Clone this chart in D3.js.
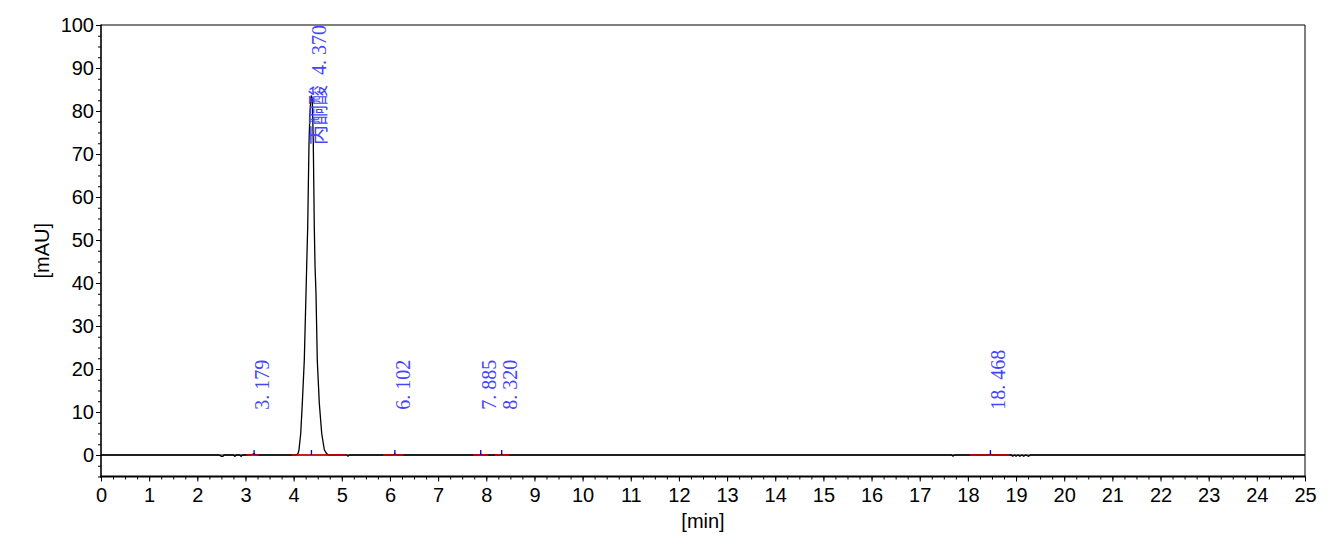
<!DOCTYPE html>
<html>
<head>
<meta charset="utf-8">
<script src="https://cdn.jsdelivr.net/npm/d3@7"></script>
<style>
  html, body { margin: 0; padding: 0; background: #fff; }
  svg { display: block; }
  .plabel { font-family: "Liberation Serif", "Times New Roman", "Noto Sans CJK SC", serif; }
</style>
</head>
<body>
<svg id="chart" width="1335" height="548"></svg>
<script>
// ---- data ----
const xTickLabels = [0,1,2,3,4,5,6,7,8,9,10,11,12,13,14,15,16,17,18,19,20,21,22,23,24,25];
const yTickLabels = [0,10,20,30,40,50,60,70,80,90,100];

// chromatogram trace (time in min, signal in mAU)
const traceTime = [0, 2.45, 2.5, 2.53, 2.56, 2.75, 2.78, 2.81, 2.88, 2.91, 2.94, 3.1, 3.179, 3.22,
  4.05, 4.09, 4.111, 4.147, 4.18, 4.221, 4.257, 4.271, 4.292, 4.319, 4.34, 4.365, 4.387, 4.408,
  4.429, 4.444, 4.464, 4.491, 4.533, 4.583, 4.637, 4.68, 4.72, 4.76, 5.1, 5.13, 5.16,
  6.07, 6.102, 6.13, 7.86, 7.885, 7.91, 8.3, 8.32, 8.34, 17.66, 17.69, 17.72,
  18.44, 18.468, 18.5, 18.9, 18.93, 18.97, 19.0, 19.04, 19.08, 19.12, 19.16, 19.2, 19.26, 19.3, 25];
const traceSignal = [0, 0, -0.3, -0.3, 0, 0, -0.3, 0, 0, -0.3, 0, 0, 0.3, 0,
  0, 0.3, 1.2, 5, 12, 22, 37.7, 44, 53, 72.6, 80, 83.6, 83, 72.6,
  53, 44, 37.7, 22, 12, 5, 1.2, 0.4, 0, 0, 0, -0.25, 0,
  0, 0.25, 0, 0, 0.2, 0, 0, 0.2, 0, 0, -0.25, 0,
  0, 0.25, 0, 0, -0.3, 0, -0.3, 0, -0.3, 0, -0.3, 0, -0.3, 0, 0];

// integrated peaks
const peakTimes  = [3.179, 4.370, 6.102, 7.885, 8.320, 18.468];
const peakApex   = [0.3, 83.6, 0.25, 0.2, 0.2, 0.25];
const peakNames  = ["", "丙酮酸", "", "", "", ""];
const peakLabels = ["3. 179", "4. 370", "6. 102", "7. 885", "8. 320", "18. 468"];
const baseStart  = [3.025, 3.96, 5.86, 7.73, 8.18, 18.04];
const baseEnd    = [3.28, 5.10, 6.28, 8.04, 8.48, 18.86];

// ---- layout ----
const svg = d3.select("#chart");
const L = 101, R = 1305, T = 25, B = 476.5;
const x = d3.scaleLinear().domain([0, 25]).range([L, R]);
const y = d3.scaleLinear().domain([-5, 100]).range([B, T]);
const tickFont = "'Liberation Sans', Arial, sans-serif";

svg.append("rect").attr("width", 1335).attr("height", 548).attr("fill", "#fff");

// minor ticks
const xMinor = d3.range(0, 25.001, 0.25);
const yMinor = d3.range(-5, 100.001, 2.5);

const gxMinor = svg.append("g").attr("transform", `translate(0,${B})`)
  .call(d3.axisBottom(x).tickValues(xMinor).tickSize(3).tickFormat(""));
const gyMinor = svg.append("g").attr("transform", `translate(${L},0)`)
  .call(d3.axisLeft(y).tickValues(yMinor).tickSize(3).tickFormat(""));

const gx = svg.append("g").attr("transform", `translate(0,${B})`)
  .call(d3.axisBottom(x).tickValues(xTickLabels).tickSize(5).tickPadding(6).tickFormat(d3.format("d")));
const gy = svg.append("g").attr("transform", `translate(${L},0)`)
  .call(d3.axisLeft(y).tickValues(yTickLabels).tickSize(5).tickPadding(2).tickFormat(d3.format("d")));

[gxMinor, gyMinor, gx, gy].forEach(g => {
  g.select(".domain").remove();
  g.selectAll("line").attr("stroke", "#000").attr("stroke-width", 1);
  g.selectAll("text").attr("font-family", tickFont).attr("font-size", 20).attr("fill", "#000");
});

// frame
svg.append("line").attr("x1", L).attr("x2", R).attr("y1", T).attr("y2", T).attr("stroke", "#000").attr("stroke-width", 1);
svg.append("line").attr("x1", R).attr("x2", R).attr("y1", T).attr("y2", B).attr("stroke", "#000").attr("stroke-width", 1);
svg.append("line").attr("x1", L).attr("x2", L).attr("y1", T - 0.5).attr("y2", B + 1).attr("stroke", "#000").attr("stroke-width", 1.6);
svg.append("line").attr("x1", L - 1).attr("x2", R + 0.5).attr("y1", B).attr("y2", B).attr("stroke", "#000").attr("stroke-width", 2);

// zero line
svg.append("line").attr("x1", L).attr("x2", R).attr("y1", y(0)).attr("y2", y(0)).attr("stroke", "#000").attr("stroke-width", 1);

// axis titles
svg.append("text").attr("x", (L + R) / 2).attr("y", 528).attr("text-anchor", "middle")
  .attr("font-family", tickFont).attr("font-size", 20).text("[min]");
svg.append("text").attr("transform", `translate(49,${(T + B) / 2}) rotate(-90)`).attr("text-anchor", "middle")
  .attr("font-family", tickFont).attr("font-size", 20).text("[mAU]");

// clip
svg.append("clipPath").attr("id", "clip").append("rect").attr("x", L).attr("y", T).attr("width", R - L).attr("height", B - T);

// trace
const pts = traceTime.map((t, i) => [t, traceSignal[i]]);
svg.append("path").datum(pts).attr("clip-path", "url(#clip)")
  .attr("fill", "none").attr("stroke", "#000").attr("stroke-width", 1.3)
  .attr("d", d3.line().x(d => x(d[0])).y(d => y(d[1])));

// integration baselines (red) and peak markers (blue)
const peaks = peakTimes.map((t, i) => ({t, apex: peakApex[i], name: peakNames[i], label: peakLabels[i], s: baseStart[i], e: baseEnd[i]}));
svg.append("g").selectAll("line").data(peaks).join("line")
  .attr("x1", d => x(d.s)).attr("x2", d => x(d.e)).attr("y1", y(0)).attr("y2", y(0))
  .attr("stroke", "#e00000").attr("stroke-width", 1.6);
svg.append("g").selectAll("line").data(peaks).join("line")
  .attr("x1", d => x(d.t)).attr("x2", d => x(d.t)).attr("y1", y(0)).attr("y2", y(0) - 5)
  .attr("stroke", "#0000e0").attr("stroke-width", 1.3);

// peak labels
svg.append("g").selectAll("text").data(peaks).join("text")
  .attr("class", "plabel")
  .attr("transform", d => `translate(${x(d.t) + 15},${y(Math.max(10.5, d.apex - 11.5))}) rotate(-90)`)
  .attr("text-anchor", "start")
  .attr("font-size", 20)
  .attr("fill", "#4444ff")
  .style("white-space", "pre")
  .text(d => d.name ? d.name + "  " + d.label : d.label);
</script>
</body>
</html>
